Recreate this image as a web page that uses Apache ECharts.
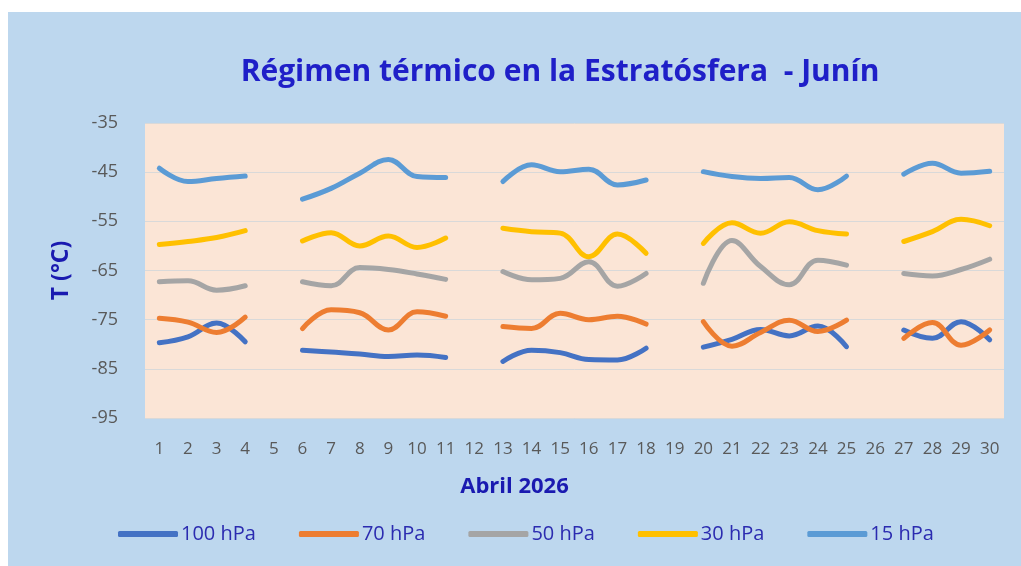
<!DOCTYPE html>
<html>
<head>
<meta charset="utf-8">
<script src="https://cdn.jsdelivr.net/npm/echarts@6/dist/echarts.min.js"></script>
<style>
  html, body { margin: 0; padding: 0; background: #ffffff; }
  #chart { width: 1021px; height: 566px; }
</style>
</head>
<body>
<div id="chart"></div>
<script>
// días de abril
const days = Array.from({ length: 30 }, (_, i) => String(i + 1))

// temperaturas (°C) por nivel de presión, null = sin dato
const p100 = [-79.7, -78.5, -75.7, -79.5, null, -81.2, -81.6, -82.0, -82.5, -82.2, -82.7, null, -83.5, -81.2, -81.7, -83.1, -83.2, -80.8, null, -80.6, -79.0, -77.0, -78.3, -76.3, -80.5, null, -77.1, -78.8, -75.4, -79.1]
const p70 = [-74.7, -75.5, -77.6, -74.5, null, -76.8, -73.0, -73.6, -77.1, -73.4, -74.3, null, -76.4, -76.8, -73.7, -75.0, -74.3, -75.9, null, -75.4, -80.4, -77.6, -75.1, -77.4, -75.1, null, -78.8, -75.6, -80.2, -77.1]
const p50 = [-67.3, -67.1, -69.0, -68.1, null, -67.3, -68.1, -64.4, -64.8, -65.7, -66.8, null, -65.2, -66.9, -66.6, -63.2, -68.2, -65.6, null, -67.6, -58.9, -64.2, -67.9, -62.9, -63.9, null, -65.6, -66.1, -64.8, -62.7]
const p30 = [-59.7, -59.1, -58.3, -56.9, null, -59.0, -57.3, -60.0, -58.0, -60.3, -58.4, null, -56.4, -57.1, -57.4, -62.2, -57.6, -61.5, null, -59.5, -55.3, -57.4, -55.1, -56.9, -57.6, null, -59.1, -57.1, -54.6, -55.9]
const p15 = [-44.2, -46.9, -46.3, -45.8, null, -50.5, -48.3, -45.2, -42.4, -45.9, -46.1, null, -46.9, -43.5, -44.9, -44.4, -47.6, -46.6, null, -44.9, -45.9, -46.3, -46.1, -48.6, -45.8, null, -45.4, -43.2, -45.2, -44.8]

const levels = ['100 hPa', '70 hPa', '50 hPa', '30 hPa', '15 hPa']
const levelData = [p100, p70, p50, p30, p15]
const levelColors = ['#4472c4', '#ed7d31', '#a5a5a5', '#ffc000', '#5b9bd5']

const chart = echarts.init(document.getElementById('chart'))

const option = {
  animation: false,
  textStyle: { fontFamily: 'Open Sans' },
  graphic: [
    {
      type: 'rect',
      z: -10,
      shape: { x: 8, y: 12, width: 1013, height: 554 },
      style: { fill: '#bdd7ee' },
    },
  ],
  title: {
    text: 'Régimen térmico en la Estratósfera  - Junín',
    left: 555,
    top: 52,
    textAlign: 'center',
    textStyle: { fontSize: 30, fontWeight: 'bold', color: '#1f1fc8' },
  },
  legend: {
    data: levels,
    left: 113,
    top: 519,
    icon: 'roundRect',
    itemWidth: 60,
    itemHeight: 6,
    itemGap: 43,
    textStyle: { fontSize: 20, color: '#2b2bb0', padding: [0, 0, 0, -2] },
  },
  grid: {
    left: 145,
    top: 123,
    width: 859,
    height: 295,
    show: true,
    backgroundColor: '#fbe5d6',
    borderWidth: 0,
  },
  xAxis: {
    type: 'category',
    data: days,
    boundaryGap: true,
    axisLine: { show: false },
    axisTick: { show: false },
    axisLabel: { interval: 0, color: '#595959', fontSize: 17, margin: 23 },
    name: 'Abril 2026',
    nameLocation: 'middle',
    nameGap: 58,
    nameTextStyle: { fontSize: 22, fontWeight: 'bold', color: '#1a1ab0', padding: [0, 120, 0, 0] },
  },
  yAxis: {
    type: 'value',
    min: -95,
    max: -35,
    interval: 10,
    axisLabel: { color: '#595959', fontSize: 18, margin: 27 },
    splitLine: { lineStyle: { color: '#d9d9d9', width: 1 } },
    name: 'T (°C)',
    nameLocation: 'middle',
    nameGap: 72,
    nameTextStyle: { fontSize: 23, fontWeight: 'bold', color: '#1a1ab0' },
  },
  series: levels.map((name, i) => ({
    name: name,
    type: 'line',
    data: levelData[i],
    smooth: 0.4,
    connectNulls: false,
    showSymbol: false,
    symbol: 'none',
    color: levelColors[i],
    lineStyle: { width: 5, cap: 'round' },
  })),
}

chart.setOption(option)
</script>
</body>
</html>
